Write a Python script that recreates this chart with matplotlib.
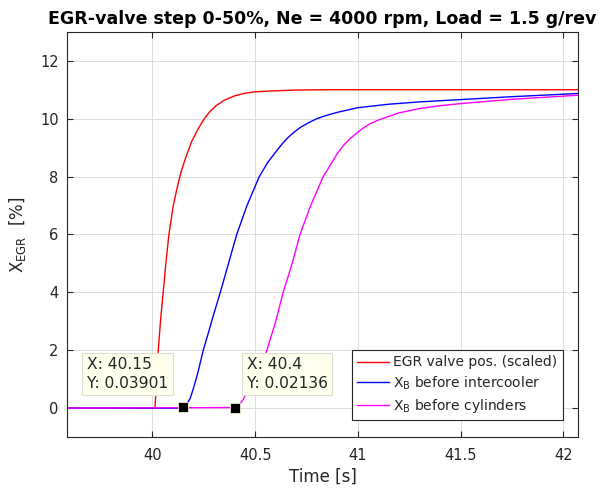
import numpy as np
import matplotlib
matplotlib.use("Agg")
import matplotlib.pyplot as plt

# values
t_valve = [39.58, 40.0, 40.012, 40.02, 40.028, 40.04, 40.052, 40.065, 40.08, 40.10,
           40.12, 40.14, 40.16, 40.19, 40.22, 40.25, 40.28, 40.31, 40.35, 40.40,
           40.45, 40.50, 40.586, 40.70, 40.85, 42.07]
x_valve = [0, 0, 0, 1.0, 2.0, 3.1, 4.0, 5.0, 6.0, 6.95,
           7.62, 8.18, 8.62, 9.2, 9.62, 9.98, 10.25, 10.45, 10.64, 10.79,
           10.88, 10.93, 10.96, 10.99, 11.0, 11.0]

t_inter = [39.58, 40.14, 40.15, 40.165, 40.183, 40.20, 40.22, 40.247, 40.27, 40.29,
           40.33, 40.37, 40.41, 40.46, 40.52, 40.56, 40.60, 40.63, 40.66, 40.69,
           40.72, 40.76, 40.80, 40.85, 40.90, 41.0, 41.15, 41.3, 41.5, 41.75, 42.07]
x_inter = [0, 0, 0.04, 0.12, 0.33, 0.7, 1.2, 2.0, 2.55, 3.05,
           4.0, 5.0, 6.0, 7.0, 8.0, 8.48, 8.85, 9.12, 9.35, 9.54,
           9.7, 9.86, 10.0, 10.12, 10.22, 10.38, 10.5, 10.58, 10.66, 10.76, 10.87]

t_cyl = [39.58, 40.40, 40.42, 40.44, 40.47, 40.50, 40.53, 40.557, 40.60, 40.636,
         40.68, 40.718, 40.77, 40.831, 40.87, 40.90, 40.93, 40.96, 41.02, 41.06,
         41.106, 41.15, 41.20, 41.30, 41.40, 41.50, 41.75, 42.07]
x_cyl = [0, 0.02, 0.1, 0.28, 0.7, 1.1, 1.5, 2.0, 3.0, 4.0,
         5.0, 6.0, 7.0, 8.0, 8.45, 8.8, 9.08, 9.3, 9.65, 9.83,
         9.97, 10.08, 10.2, 10.35, 10.45, 10.52, 10.67, 10.81]

tip_x = [40.15, 40.4]
tip_y = [0.03901, 0.02136]
tip_text = ["X: 40.15\nY: 0.03901", "X: 40.4\nY: 0.02136"]

labels = ["EGR valve pos. (scaled)",
          r"X$_\mathregular{B}$ before intercooler",
          r"X$_\mathregular{B}$ before cylinders"]

dark = "#262626"
plt.rcParams['font.family'] = ['DejaVu Sans']

fig = plt.figure(figsize=(6.04, 4.90), dpi=100)
ax = fig.add_axes([0.111, 0.108, 0.8465, 0.827])

ax.plot(t_valve, x_valve, color="#ff0000", lw=1.0, label=labels[0])
ax.plot(t_inter, x_inter, color="#0000ff", lw=1.0, label=labels[1])
ax.plot(t_cyl, x_cyl, color="#ff00ff", lw=1.0, label=labels[2])

ax.set_xlim(39.584, 42.073)
ax.set_ylim(-1, 13)
ax.set_xticks([40, 40.5, 41, 41.5, 42])
ax.set_xticklabels(["40", "40.5", "41", "41.5", "42"])
ax.set_yticks([0, 2, 4, 6, 8, 10, 12])
ax.grid(True, color="#dcdcdc", lw=0.7)
ax.set_axisbelow(True)
ax.tick_params(direction="in", top=True, right=True, labelsize=10.5,
               colors=dark, length=4, width=0.8)
ax.tick_params(axis="x", pad=8)
ax.tick_params(axis="y", pad=6)
for s in ax.spines.values():
    s.set_color(dark)
    s.set_linewidth(0.8)

ax.set_xlabel("Time [s]", fontsize=12, color=dark, labelpad=3)
ax.set_ylabel(r"X$_\mathregular{EGR}$  [%]", fontsize=12, color=dark, labelpad=9)
ax.set_title("EGR-valve step 0-50%, Ne = 4000 rpm, Load = 1.5 g/rev",
             fontsize=12.5, fontweight="bold", color="black", pad=6)

# data tips
ax.plot(tip_x, tip_y, "s", color="black", markersize=7,
        markeredgecolor="#f0f0d0", markeredgewidth=0.6, zorder=6)
ax.text(39.68, 1.76, tip_text[0], fontsize=11.2, color=dark, va="top", ha="left",
        linespacing=1.3, zorder=7,
        bbox=dict(boxstyle="square,pad=0.3", fc="#ffffee", ec="#deded0", lw=0.8))
ax.text(40.458, 1.76, tip_text[1], fontsize=11.2, color=dark, va="top", ha="left",
        linespacing=1.3, zorder=7,
        bbox=dict(boxstyle="square,pad=0.3", fc="#ffffee", ec="#deded0", lw=0.8))

leg = ax.legend(loc="lower right", bbox_to_anchor=(0.970, 0.042), fontsize=10,
                fancybox=False, framealpha=1, edgecolor=dark, handlelength=2.3,
                labelspacing=0.35, borderaxespad=0, handletextpad=0.3,
                borderpad=0.4)
leg.get_frame().set_linewidth(0.8)
for txt in leg.get_texts():
    txt.set_color(dark)

fig.savefig("out.png", dpi=100)
